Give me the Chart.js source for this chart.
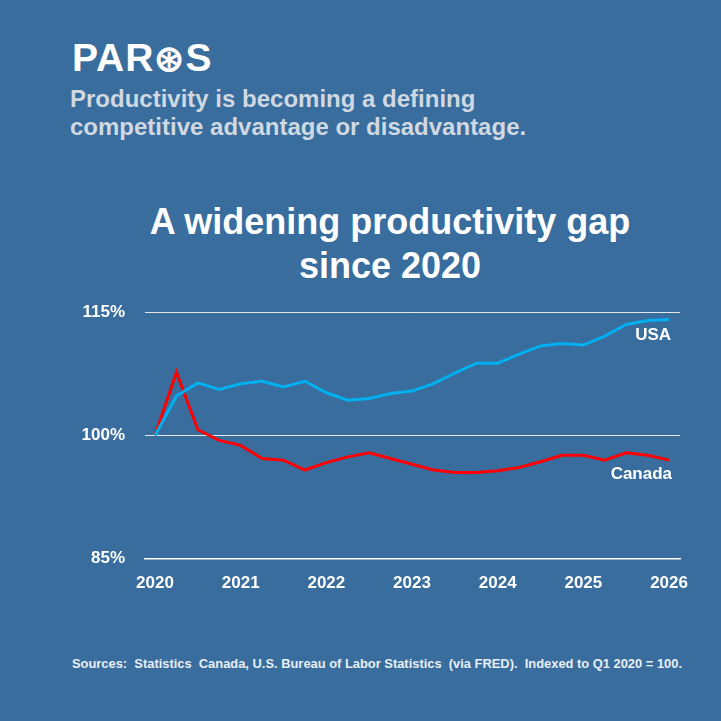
<!DOCTYPE html>
<html><head><meta charset="utf-8">
<script src="https://cdn.jsdelivr.net/npm/chart.js@4"></script>
<style>
body{margin:0;width:721px;height:721px;background:#386d9d;font-family:"Liberation Sans",Arial,sans-serif;position:relative;overflow:hidden}
.t{position:absolute;white-space:nowrap}
</style></head><body>
<div class="t" style="left:72px;top:36px;font-size:39px;font-weight:bold;color:#fff;letter-spacing:1px">PAR<span style="font-size:36px">⊛</span>S</div>
<div class="t" style="left:70px;top:85px;font-size:24px;font-weight:bold;color:#d0d8e2;line-height:28px">Productivity is becoming a defining<br>competitive advantage or disadvantage.</div>
<div class="t" style="left:0;width:780px;top:200px;text-align:center;font-size:36px;color:#fff;line-height:44px;font-weight:bold">A widening productivity gap<br>since 2020</div>
<div class="t" style="left:0;width:754px;top:656px;text-align:center;font-size:12.9px;font-weight:bold;color:#e8eef5">Sources:&nbsp; Statistics&nbsp; Canada, U.S. Bureau of Labor Statistics&nbsp; (via FRED).&nbsp; Indexed to Q1 2020 = 100.</div>
<div style="position:absolute;left:0;top:282px;width:700px;height:307px"><canvas id="c"></canvas></div>
<script>
const years=[2020,2021,2022,2023,2024,2025,2026];
const yTicks=[85,100,115];
const usa=[100,104.8,106.4,105.6,106.3,106.6,105.9,106.6,105.2,104.3,104.5,105.1,105.4,106.3,107.6,108.8,108.8,109.9,110.9,111.2,111.0,112.1,113.5,114.0,114.1];
const canada=[100,107.7,100.7,99.4,98.8,97.2,97.0,95.8,96.7,97.4,97.9,97.2,96.5,95.8,95.5,95.5,95.7,96.1,96.8,97.6,97.6,97.0,97.9,97.6,97.0];
const pts=a=>a.map((v,i)=>({x:2020+i/4,y:v}));
const labels={id:'lbl',afterDatasetsDraw(ch){const c=ch.ctx,x=ch.scales.x,y=ch.scales.y;c.save();c.fillStyle='#fff';c.font='bold 17px "Liberation Sans",Arial';c.textAlign='right';c.textBaseline='middle';
c.fillText('USA',x.getPixelForValue(2026)+2,y.getPixelForValue(usa[usa.length-1])+16);
c.fillText('Canada',x.getPixelForValue(2026)+3,y.getPixelForValue(canada[canada.length-1])+14);c.restore();}};
new Chart(document.getElementById('c'),{type:'line',
data:{datasets:[{data:pts(usa),borderColor:'#00b0f0',borderWidth:3,pointRadius:0,tension:0},{data:pts(canada),borderColor:'#ff0000',borderWidth:3,pointRadius:0,tension:0}]},
options:{responsive:true,maintainAspectRatio:false,animation:false,layout:{padding:{top:5,right:20}},
plugins:{legend:{display:false},tooltip:{enabled:false}},
scales:{x:{type:'linear',min:2019.883,max:2026.128,afterBuildTicks:s=>{s.ticks=years.map(v=>({value:v}))},afterFit:s=>{s.height=30},
grid:{display:false},border:{color:'#fff',width:1.5},ticks:{color:'#fff',font:{size:17,weight:'bold',family:'"Liberation Sans",Arial'},padding:6,maxRotation:0,callback:v=>String(v)}},
y:{min:85,max:115,afterBuildTicks:s=>{s.ticks=yTicks.map(v=>({value:v}))},afterFit:s=>{s.width=145},
grid:{color:'#e6e6e6',lineWidth:1,drawTicks:false},border:{display:false},ticks:{color:'#fff',padding:20,font:{size:17,weight:'bold',family:'"Liberation Sans",Arial'},callback:v=>v+'%'}}}},
plugins:[labels]});
</script></body></html>
